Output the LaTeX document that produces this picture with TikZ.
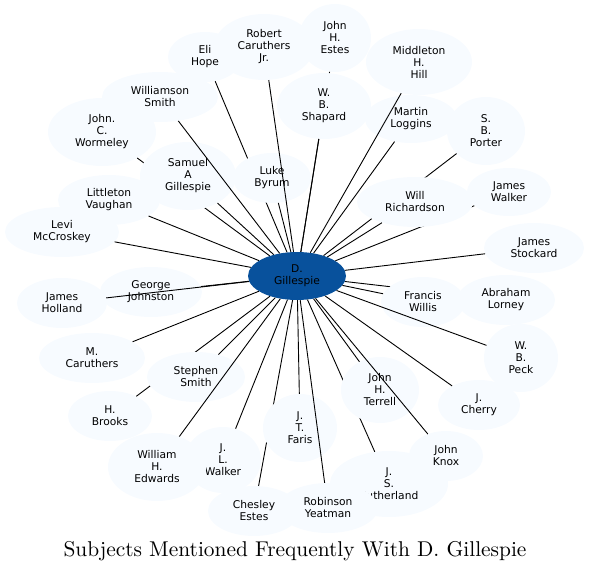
\documentclass[tikz,border=0pt]{standalone}
\usepackage{fontspec}
\newfontfamily\satfont{DejaVu Sans}
\newfontfamily\capfont{lmroman10-regular.otf}
\usetikzlibrary{shapes.geometric}
\definecolor{hubblue}{HTML}{08519C}
\definecolor{satblue}{HTML}{F7FBFF}

\begin{document}
\begin{tikzpicture}[
  x=1pt, y=-1pt,
  hub/.style={ellipse, fill=hubblue, inner sep=0pt, align=center,
    font=\satfont\fontsize{10.7}{12}\selectfont},
  sat/.style={ellipse, fill=satblue, inner sep=0pt, align=center,
    font=\satfont\fontsize{10.7}{12}\selectfont},
  link/.style={draw=black, line width=0.9pt},
]
\useasboundingbox (0,0) rectangle (590,572);

% ---------- centre ----------
\node[hub, minimum width=98, minimum height=48] (gillespie) at (297,276) {D.\\Gillespie};

% ---------- satellites (drawing order matters: later ones cover earlier) ----------
\foreach \n/\x/\y/\w/\h/\t in {
  eli/205/57/74/50/{Eli\\Hope},
  estes/335/38/72/68/{John\\H.\\Estes},
  wormeley/102/132/108/68/{John.\\C.\\Wormeley},
  brooks/110/416/84/50/{H.\\Brooks},
  chesley/254/511/92/50/{Chesley\\Estes},
  sutherland/389/484/118/66/{J.\\S.\\Sutherland},
  jwalker/509/192/84/48/{James\\Walker},
  porter/486/131/78/68/{S.\\B.\\Porter},
  lorney/506/300/98/50/{Abraham\\Lorney},
  luke/272/178/78/50/{Luke\\Byrum},
  shapard/324/106/94/66/{W.\\B.\\Shapard},
  samuel/188/176/96/68/{Samuel\\A\\Gillespie},
  stephen/196/377/98/50/{Stephen\\Smith},
  faris/300/428/74/68/{J.\\T.\\Faris},
  terrell/380/390/78/66/{John\\H.\\Terrell},
  richardson/415/202/116/50/{Will\\Richardson},
  willis/423/302/84/50/{Francis\\Willis},
  robert/264/47/100/66/{Robert\\Caruthers\\Jr.},
  loggins/411/119/92/48/{Martin\\Loggins},
  hill/419/62/106/66/{Middleton\\H.\\Hill},
  williamson/160/97/116/50/{Williamson\\Smith},
  johnston/151/292/102/50/{George\\Johnston},
  holland/62/303/90/50/{James\\Holland},
  jlwalker/223/460/76/66/{J.\\L.\\Walker},
  edwards/157/467/98/68/{William\\H.\\Edwards},
  knox/446/456/74/50/{John\\Knox},
  yeatman/328/508/100/50/{Robinson\\Yeatman},
  vaughan/109/200/102/50/{Littleton\\Vaughan},
  mccroskey/62/232/114/50/{Levi\\McCroskey},
  mcaruthers/92/358/106/50/{M.\\Caruthers},
  stockard/534/248/100/50/{James\\Stockard},
  peck/521/358/74/68/{W.\\B.\\Peck},
  cherry/479/405/82/50/{J.\\Cherry}} {
  \node[sat, minimum width=\w, minimum height=\h] (\n) at (\x,\y) {\t};
  \draw[link] (gillespie) -- (\n);
}

% ---------- caption ----------
\node[anchor=base, inner sep=0pt, font=\capfont\fontsize{21.4}{24}\selectfont] (caption) at (295,556.5)
  {Subjects Mentioned Frequently With D. Gillespie};

\end{tikzpicture}
\end{document}
